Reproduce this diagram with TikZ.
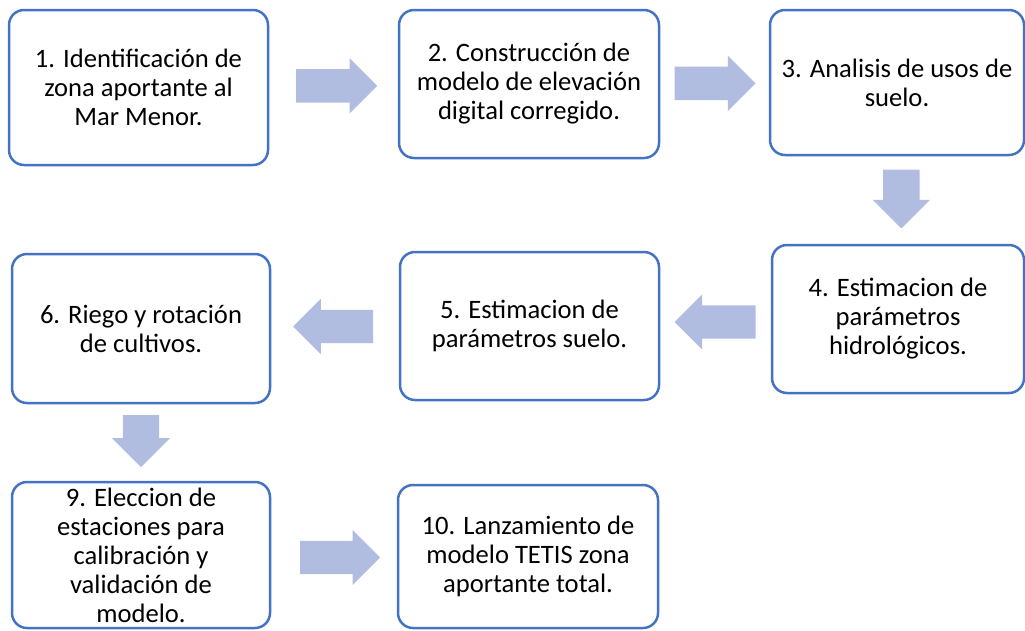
\documentclass[tikz,border=0pt]{standalone}
\usepackage{fontspec}
\setmainfont{Carlito}
\usetikzlibrary{shapes.arrows}
\definecolor{boxblue}{HTML}{4472C4}
\definecolor{arrowblue}{RGB}{176,189,224}
\begin{document}
\begin{tikzpicture}[x=1pt,y=-1pt,
  box/.style={draw=boxblue, line width=2.5pt, rounded corners=15pt, fill=white,
    align=center, font=\fontsize{26.6}{29}\selectfont, inner sep=0pt},
  blockarrow/.style={single arrow, fill=arrowblue, draw=none, inner sep=0pt,
    text height=33pt, text depth=0pt, minimum width=55pt,
    single arrow head extend=11pt, single arrow tip angle=90, anchor=tail},
  downarrow/.style={blockarrow, rotate=-90, text height=36pt,
    minimum width=57pt, single arrow head extend=10.5pt}
]
\useasboundingbox (0,0) rectangle (1025,630);

\node[box, minimum width=259pt, minimum height=155pt] (b1) at (138.5,87.5)
  {1. Identificación de\\zona aportante al\\Mar Menor.};
\node[box, minimum width=260pt, minimum height=148pt] (b2) at (529,84)
  {2. Construcción de\\modelo de elevación\\digital corregido.};
\node[box, minimum width=254pt, minimum height=145pt] (b3) at (897,82.5)
  {3. Analisis de usos de\\suelo.};
\node[box, minimum width=252pt, minimum height=148pt] (b4) at (898,319)
  {4. Estimacion de\\parámetros\\hidrológicos.};
\node[box, minimum width=259pt, minimum height=148pt] (b5) at (529.5,326)
  {5. Estimacion de\\parámetros suelo.};
\node[box, minimum width=258pt, minimum height=149pt] (b6) at (141,328.5)
  {6. Riego y rotación\\de cultivos.};
\node[box, minimum width=258pt, minimum height=146pt] (b9) at (141,555)
  {9. Eleccion de\\estaciones para\\calibración y\\validación de\\modelo.};
\node[box, minimum width=260pt, minimum height=143pt] (b10) at (528,556.5)
  {10. Lanzamiento de\\modelo TETIS zona\\aportante total.};

\node[blockarrow, minimum height=81pt] (a12) at (296,85.8) {};
\node[blockarrow, minimum height=81pt] (a23) at (674.3,83.3) {};
\node[downarrow, minimum height=59pt] (a34) at (901.3,169.3) {};
\node[blockarrow, rotate=180, minimum height=81pt] (a45) at (755.7,322) {};
\node[blockarrow, rotate=180, minimum height=80pt] (a56) at (373.3,326.5) {};
\node[downarrow, minimum height=52pt, minimum width=58pt, single arrow head extend=11pt] (a69) at (141,415) {};
\node[blockarrow, minimum height=80pt] (a910) at (300,557.5) {};
\end{tikzpicture}
\end{document}
